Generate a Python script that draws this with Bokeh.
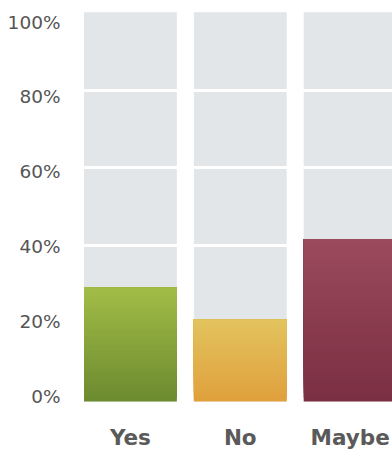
from bokeh.plotting import figure
from bokeh.models import Range1d, FixedTicker, ColumnDataSource, LinearAxis
from bokeh.embed import file_html
from bokeh.resources import INLINE

categories = ["Yes", "No", "Maybe"]
values = [29.3, 21.0, 41.7]
top_colors = ["#a2bd47", "#e2c35e", "#9a4a5c"]
bottom_colors = ["#6c8a30", "#e0a03c", "#7b2f42"]
y_ticks = [0, 20, 40, 60, 80, 100]
y_tick_labels = ["0%", "20%", "40%", "60%", "80%", "100%"]

BAR_W = 0.845
N = 40

def hex2rgb(h):
    h = h.lstrip("#")
    return tuple(int(h[i:i + 2], 16) for i in (0, 2, 4))

def mix(c1, c2, t):
    a, b = hex2rgb(c1), hex2rgb(c2)
    return "#%02x%02x%02x" % tuple(int(round(a[k] + (b[k] - a[k]) * t)) for k in range(3))

xs = list(range(len(categories)))

p = figure(width=392, height=452, output_backend="svg", toolbar_location=None,
           x_range=Range1d(-0.5, 2.386), y_range=Range1d(-1.03, 100.95),
           min_border_left=75, min_border_right=0, min_border_top=8,
           min_border_bottom=47)
p.outline_line_color = None
p.background_fill_color = "white"
p.border_fill_color = "white"
p.xgrid.visible = False
p.ygrid.visible = False
p.yaxis.visible = False

# label axis range (labels sit slightly spread relative to the gridlines)
p.extra_y_ranges = {"lab": Range1d(-2.54, 103.61)}

# background track bars
p.vbar(x=xs, width=BAR_W, bottom=0, top=100, fill_color="#e2e6e9", line_color=None)
# white gridlines over the tracks
p.hspan(y=y_ticks[1:-1], line_color="white", line_width=3)

# gradient-filled value bars (overlapping slices, bottom to top)
gx, gb, gt, gc = [], [], [], []
for i, v in enumerate(values):
    for k in range(N):
        gx.append(xs[i])
        gb.append(v * k / N)
        gt.append(v)
        gc.append(mix(bottom_colors[i], top_colors[i], (k + 0.5) / N))
p.vbar(source=ColumnDataSource(dict(x=gx, b=gb, t=gt, c=gc)), x="x", width=BAR_W,
       bottom="b", top="t", fill_color="c", line_color=None)

ya = LinearAxis(y_range_name="lab")
ya.ticker = FixedTicker(ticks=y_ticks)
ya.major_label_overrides = {t: l for t, l in zip(y_ticks, y_tick_labels)}
ya.axis_line_color = None
ya.major_tick_line_color = None
ya.minor_tick_line_color = None
ya.major_label_text_font = "DejaVu Sans"
ya.major_label_text_font_size = "18.5px"
ya.major_label_text_color = "#555555"
ya.major_label_standoff = 9
p.add_layout(ya, "left")

xa = p.xaxis[0]
xa.ticker = FixedTicker(ticks=xs)
xa.major_label_overrides = {x: c for x, c in zip(xs, categories)}
xa.axis_line_color = None
xa.major_tick_line_color = None
xa.minor_tick_line_color = None
xa.major_label_text_font = "DejaVu Sans"
xa.major_label_text_font_style = "bold"
xa.major_label_text_font_size = "21.5px"
xa.major_label_text_color = "#5a5a5a"
xa.major_label_standoff = 13

open("out.html", "w").write(file_html(p, INLINE))
